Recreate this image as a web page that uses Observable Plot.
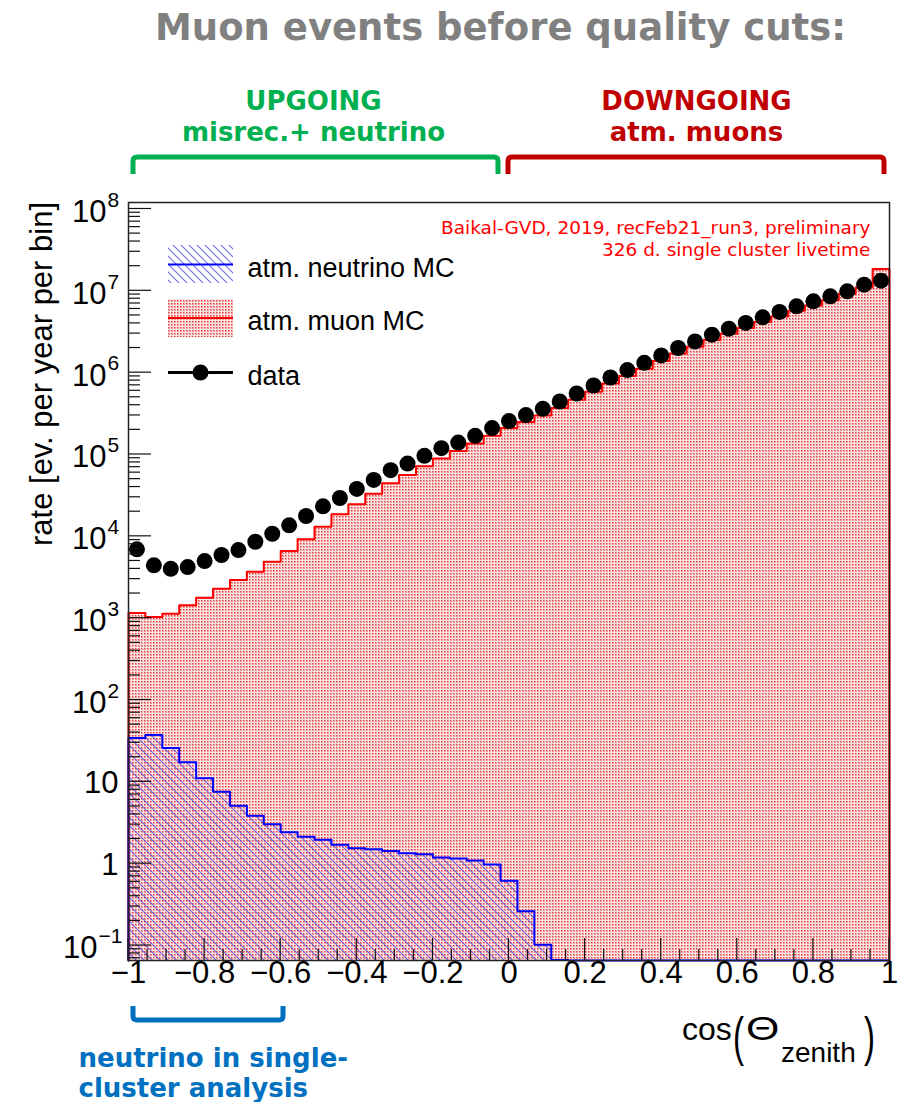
<!DOCTYPE html>
<html>
<head>
<meta charset="utf-8">
<script src="https://cdn.jsdelivr.net/npm/d3@7"></script>
<script src="https://cdn.jsdelivr.net/npm/@observablehq/plot@0.6"></script>
<style>
  html, body { margin: 0; padding: 0; background: #fff; }
  #chart svg { display: block; }
</style>
</head>
<body>
<div id="chart"></div>
<script>
// ---------------- data ----------------
const nBins = 45;                 // cos(zenith) bins from -1 to 1
const xRange = [-1, 1];
// data points (events per year per bin)
const dataRate = [6930, 4420, 4010, 4210, 4990, 5910, 6800, 8590, 10760, 13640,
  17720, 23270, 29420, 37930, 48900, 64300, 77400, 96200, 119400, 140000,
  169000, 210000, 256000, 303000, 361000, 444000, 556000, 697000, 873000, 1076000,
  1320000, 1625000, 2000000, 2410000, 2910000, 3450000, 4050000, 4740000, 5520000, 6460000,
  7440000, 8570000, 9870000, 11900000, 13300000];
// atm. muon MC histogram
const muonMC = [1160, 1030, 1130, 1440, 1770, 2290, 2920, 3690, 4890, 6600,
  9190, 13100, 18600, 24600, 33200, 44500, 56200, 71900, 89100, 110600,
  136000, 169000, 210000, 250000, 300000, 370000, 465000, 585000, 735000, 910000,
  1120000, 1390000, 1710000, 2080000, 2510000, 2990000, 3520000, 4150000, 4850000, 5700000,
  6600000, 7650000, 9200000, 11000000, 18500000];
// atm. neutrino MC histogram
const neutrinoMC = [34.3, 37.3, 25.9, 17.4, 11.1, 7.56, 5.10, 3.85, 3.04, 2.42,
  2.13, 1.96, 1.70, 1.54, 1.50, 1.43, 1.34, 1.30, 1.19, 1.16,
  1.09, 0.98, 0.62, 0.262, 0.102, 0.0665, 0, 0, 0, 0,
  0, 0, 0, 0, 0, 0, 0, 0, 0, 0,
  0, 0, 0, 0, 0];
const yDomain = [0.0656, 1.2e8];
const xTickLabels = [-1, -0.8, -0.6, -0.4, -0.2, 0, 0.2, 0.4, 0.6, 0.8, 1];
const yTickValues = [0.1, 1, 10, 100, 1e3, 1e4, 1e5, 1e6, 1e7, 1e8];
const yTickBase   = ["10", "1", "10", "10", "10", "10", "10", "10", "10", "10"];
const yTickExp    = ["\u22121", "", "", "2", "3", "4", "5", "6", "7", "8"];
const legendLabels = ["atm. neutrino MC", "atm. muon MC", "data"];

// ---------------- derived tables ----------------
const binW = (xRange[1] - xRange[0]) / nBins;
const edges = d3.range(nBins + 1).map(i => xRange[0] + i * binW);
const centers = d3.range(nBins).map(i => xRange[0] + (i + 0.5) * binW);
const yMin = yDomain[0];
function stepPoints(vals) {
  const pts = [{x: edges[0], y: yMin}];
  vals.forEach((v, i) => {
    const yy = Math.max(v, yMin);
    pts.push({x: edges[i], y: yy}, {x: edges[i + 1], y: yy});
  });
  pts.push({x: edges[nBins], y: yMin});
  return pts;
}
const muonSteps = stepPoints(muonMC);
const nuSteps = stepPoints(neutrinoMC);
const points = dataRate.map((v, i) => ({x: centers[i], y: v}));
const yLabels = yTickValues.map((v, i) => ({v, base: yTickBase[i], exp: yTickExp[i]}));

// ---------------- layout ----------------
const W = 917, H = 1102;
const mL = 128, mR = 28, mT = 202, mB = 142;
const sans = "Liberation Sans, Arial, Helvetica, sans-serif";
const bold = "DejaVu Sans, Verdana, sans-serif";

function note(str, px, py, o = {}) {
  return Plot.text([str], {text: d => d, frameAnchor: "top-left",
    dx: px - mL, dy: py - mT, lineAnchor: "bottom", ...o});
}

// pattern definitions
const defsMark = () => {
  const g = d3.create("svg:g");
  g.html(`<defs>
    <pattern id="muPat" width="3" height="3" patternUnits="userSpaceOnUse">
      <rect width="3" height="3" fill="#fbe6e6"/>
      <rect width="2" height="2" fill="#f29a9a"/>
      <rect width="1" height="1" fill="#e23a3a"/>
    </pattern>
    <pattern id="nuPat" width="8" height="8" patternUnits="userSpaceOnUse">
      <path d="M0,0 L8,8 M-1,7 L1,9 M7,-1 L9,1" stroke="#4b48e6" stroke-width="1.1" stroke-opacity="0.8" fill="none"/>
    </pattern>
  </defs>`);
  return g.node();
};

// ROOT-style inward ticks
const ticksMark = (index, scales, values, dims) => {
  const x = scales.x, y = scales.y;
  const bottom = dims.height - dims.marginBottom, left = dims.marginLeft;
  const g = d3.create("svg:g").attr("stroke", "#111").attr("stroke-width", 1.2);
  d3.range(41).forEach(i => {
    const v = -1 + i * 0.05;
    const major = i % 4 === 0;
    g.append("line").attr("x1", x(v)).attr("x2", x(v))
      .attr("y1", bottom).attr("y2", bottom - (major ? 22 : 11));
  });
  for (let k = -2; k <= 8; k++) {
    for (let m = 1; m <= 9; m++) {
      const v = m * Math.pow(10, k);
      if (v < yDomain[0] || v > yDomain[1]) continue;
      g.append("line").attr("x1", left).attr("x2", left + (m === 1 ? 23 : 12))
        .attr("y1", y(v)).attr("y2", y(v));
    }
  }
  return g.node();
};

// axis titles, brackets and legend swatches
const decorMark = (index, scales, values, dims) => {
  const g = d3.create("svg:g").attr("fill", "none");
  // y-axis title
  g.append("text").attr("transform", "translate(52,374) rotate(-90)")
    .attr("text-anchor", "middle").attr("fill", "#000")
    .attr("font-family", sans).attr("font-size", 31)
    .text("rate [ev. per year per bin]");
  // x-axis title
  const xt = g.append("g").attr("fill", "#000").attr("font-family", sans).attr("text-anchor", "start");
  xt.append("text").attr("x", 682).attr("y", 1040).attr("font-size", 32).text("cos");
  xt.append("text").attr("transform", "translate(733,1055) scale(1,1.6)").attr("font-size", 33).text("(");
  xt.append("text").attr("transform", "translate(746,1040) scale(1.3,1)").attr("font-size", 33).text("\u0398");
  xt.append("text").attr("x", 781).attr("y", 1062).attr("font-size", 28).text("zenith");
  xt.append("text").attr("transform", "translate(864,1055) scale(1,1.6)").attr("font-size", 33).text(")");
  // brackets
  g.append("path").attr("d", "M133,174 L133,161 Q133,157 137,157 L494,157 Q498,157 498,161 L498,174")
    .attr("stroke", "#00b050").attr("stroke-width", 5);
  g.append("path").attr("d", "M508,174 L508,161 Q508,157 512,157 L880,157 Q884,157 884,161 L884,174")
    .attr("stroke", "#c00000").attr("stroke-width", 5);
  g.append("path").attr("d", "M133,1006 L133,1016 Q133,1020 137,1020 L279,1020 Q283,1020 283,1016 L283,1006")
    .attr("stroke", "#0070c0").attr("stroke-width", 5);
  // legend
  g.append("rect").attr("x", 168).attr("y", 245).attr("width", 65).attr("height", 38).attr("fill", "url(#nuPat)");
  g.append("line").attr("x1", 168).attr("x2", 233).attr("y1", 264.5).attr("y2", 264.5).attr("stroke", "#0000ff").attr("stroke-width", 2);
  g.append("rect").attr("x", 168).attr("y", 299).attr("width", 65).attr("height", 38).attr("fill", "url(#muPat)");
  g.append("line").attr("x1", 168).attr("x2", 233).attr("y1", 318).attr("y2", 318).attr("stroke", "#ff0000").attr("stroke-width", 2);
  g.append("line").attr("x1", 168).attr("x2", 233).attr("y1", 372.5).attr("y2", 372.5).attr("stroke", "#000").attr("stroke-width", 3);
  g.append("circle").attr("cx", 200.5).attr("cy", 372.5).attr("r", 8).attr("fill", "#000");
  return g.node();
};

const chart = Plot.plot({
  width: W, height: H,
  marginTop: mT, marginBottom: mB, marginLeft: mL, marginRight: mR,
  style: {background: "#fff", overflow: "visible"},
  x: {domain: xRange, axis: null},
  y: {type: "log", domain: yDomain, axis: null},
  marks: [
    defsMark,
    // atm. muon MC
    Plot.areaY(muonSteps, {x: "x", y1: yMin, y2: "y", fill: "url(#muPat)"}),
    Plot.line(muonSteps, {x: "x", y: "y", stroke: "#ff0000", strokeWidth: 2}),
    // atm. neutrino MC
    Plot.areaY(nuSteps, {x: "x", y1: yMin, y2: "y", fill: "url(#nuPat)"}),
    Plot.line(nuSteps, {x: "x", y: "y", stroke: "#0000ff", strokeWidth: 2}),
    // data
    Plot.dot(points, {x: "x", y: "y", r: 8, fill: "#000", stroke: "none"}),
    ticksMark,
    Plot.frame({stroke: "#222", strokeWidth: 1.5}),
    // x tick labels
    Plot.text(xTickLabels, {x: d => d, frameAnchor: "bottom", dy: 22,
      text: d => (d < 0 ? "\u2212" : "") + String(Math.abs(d)),
      fontSize: 31, fontFamily: sans, fill: "#000"}),
    // y tick labels
    Plot.text(yLabels.filter(d => d.exp === ""), {y: "v", frameAnchor: "left", text: "base",
      textAnchor: "end", dx: -10, dy: 1, fontSize: 31, fontFamily: sans, fill: "#000"}),
    Plot.text(yLabels.filter(d => d.exp.length === 1), {y: "v", frameAnchor: "left", text: "base",
      textAnchor: "end", dx: -22, dy: 3, fontSize: 31, fontFamily: sans, fill: "#000"}),
    Plot.text(yLabels.filter(d => d.exp.length === 1), {y: "v", frameAnchor: "left", text: "exp",
      textAnchor: "start", dx: -21, dy: -9, fontSize: 21, fontFamily: sans, fill: "#000"}),
    Plot.text(yLabels.filter(d => d.exp.length > 1), {y: "v", frameAnchor: "left", text: "base",
      textAnchor: "end", dx: -31, dy: 3, fontSize: 31, fontFamily: sans, fill: "#000"}),
    Plot.text(yLabels.filter(d => d.exp.length > 1), {y: "v", frameAnchor: "left", text: "exp",
      textAnchor: "start", dx: -30, dy: -9, fontSize: 21, fontFamily: sans, fill: "#000"}),
    // legend labels
    note(legendLabels[0], 247, 276, {textAnchor: "start", fontSize: 27, fontFamily: sans, fill: "#000"}),
    note(legendLabels[1], 247, 329, {textAnchor: "start", fontSize: 27, fontFamily: sans, fill: "#000"}),
    note(legendLabels[2], 247, 384, {textAnchor: "start", fontSize: 27, fontFamily: sans, fill: "#000"}),
    // red annotation
    note("Baikal-GVD, 2019, recFeb21_run3, preliminary", 870, 233,
      {textAnchor: "end", fontSize: 18.5, fontFamily: bold, fill: "#ff0000"}),
    note("326 d. single cluster livetime", 870, 255,
      {textAnchor: "end", fontSize: 18.5, fontFamily: bold, fill: "#ff0000"}),
    // title & region annotations
    note("Muon events before quality cuts:", 500, 39,
      {textAnchor: "middle", fontSize: 37, fontWeight: "bold", fontFamily: bold, fill: "#808080"}),
    note("UPGOING", 313, 109, {textAnchor: "middle", fontSize: 26, fontWeight: "bold", fontFamily: bold, fill: "#00b050"}),
    note("misrec.+ neutrino", 313, 140, {textAnchor: "middle", fontSize: 26, fontWeight: "bold", fontFamily: bold, fill: "#00b050"}),
    note("DOWNGOING", 696, 109, {textAnchor: "middle", fontSize: 26, fontWeight: "bold", fontFamily: bold, fill: "#c00000"}),
    note("atm. muons", 696, 140, {textAnchor: "middle", fontSize: 26, fontWeight: "bold", fontFamily: bold, fill: "#c00000"}),
    note("neutrino in single-", 78, 1066, {textAnchor: "start", fontSize: 26, fontWeight: "bold", fontFamily: bold, fill: "#0070c0"}),
    note("cluster analysis", 78, 1096, {textAnchor: "start", fontSize: 26, fontWeight: "bold", fontFamily: bold, fill: "#0070c0"}),
    decorMark
  ]
});
document.getElementById("chart").appendChild(chart);
</script>
</body>
</html>
